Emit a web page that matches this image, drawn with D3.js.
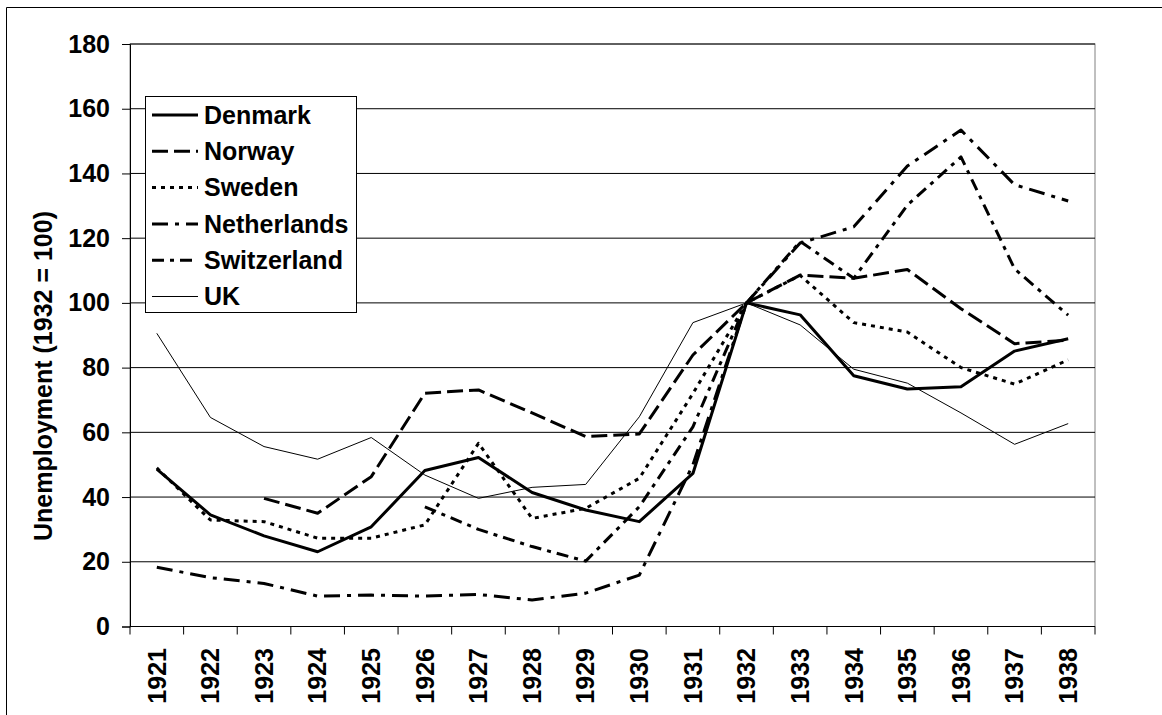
<!DOCTYPE html>
<html>
<head>
<meta charset="utf-8">
<script src="https://cdn.jsdelivr.net/npm/d3@7"></script>
<style>
  body { margin: 0; background: #fff; }
  text { font-family: "Liberation Sans", Arial, sans-serif; font-weight: bold; fill: #000; }
</style>
</head>
<body>
<svg id="svg1" width="1162" height="715"></svg>
<script>
// chart values, index 1932 = 100
var years = ["1921","1922","1923","1924","1925","1926","1927","1928","1929","1930","1931","1932","1933","1934","1935","1936","1937","1938"];
var yTicks = [0, 20, 40, 60, 80, 100, 120, 140, 160, 180];

var denmark     = [48.6, 34.5, 28, 23.1, 30.8, 48.2, 52.2, 41.4, 36, 32.4, 47.3, 100, 96.3, 77.5, 73.4, 74.1, 85.1, 88.9];
var norway      = [null, null, 39.6, 35, 46.3, 72.1, 73.1, 66, 58.7, 59.5, 83.9, 100, 108.6, 107.6, 110.3, 98.2, 87.4, 88.5];
var sweden      = [49, 32.9, 32.4, 27.3, 27.3, 31.4, 56.6, 33.4, 36.5, 45.8, 72, 100, 108.5, 93.9, 91, 80, 74.9, 82.4];
var netherlands = [18.3, 15.1, 13.3, 9.4, 9.7, 9.4, 9.9, 8.2, 10.3, 15.9, 50, 100, 118.5, 123.5, 142.3, 153.4, 136.5, 131.5];
var switzerland = [null, null, null, null, null, 37, 30, 24.7, 20.2, 37, 61.7, 100, 119, 107.6, 130.2, 145.1, 110.5, 96.2];
var uk          = [90.6, 64.6, 55.6, 51.7, 58.4, 46.8, 39.6, 43, 43.9, 64.8, 93.9, 100, 93.2, 79.5, 75.2, 66, 56.3, 62.7];

var seriesNames = ["Denmark", "Norway", "Sweden", "Netherlands", "Switzerland", "UK"];
var seriesValues = [denmark, norway, sweden, netherlands, switzerland, uk];
var seriesWidth = [3, 3, 3, 3, 3, 1];
var seriesDash = [null, "16,6", "4,5", "16,7,4,7", "12,6,4,6", null];

var plotLeft = 130, plotRight = 1095, plotTop = 44, plotBottom = 626.5;
var fontSize = '25px';

var svg = d3.select('svg');

svg.append('rect').attr('width', 1162).attr('height', 715).attr('fill', '#fff');

// outer chart frame (only left and top visible)
svg.append('path')
    .attr('d', 'M6.5,715V7.5H1162')
    .attr('fill', 'none')
    .attr('stroke', '#000')
    .attr('stroke-width', 1);

var x = d3.scaleBand().domain(years).range([plotLeft, plotRight]);
var y = d3.scaleLinear().domain([0, 180]).range([plotBottom, plotTop]);

// plot area border
svg.append('rect')
    .attr('x', plotLeft).attr('y', plotTop)
    .attr('width', plotRight - plotLeft).attr('height', plotBottom - plotTop)
    .attr('fill', 'none').attr('stroke', '#808080').attr('stroke-width', 1);

// gridlines
svg.append('g').selectAll('line')
    .data(yTicks.filter(function(d){ return d > 0; }))
    .enter().append('line')
    .attr('x1', plotLeft).attr('x2', plotRight)
    .attr('y1', function(d){ return y(d); })
    .attr('y2', function(d){ return y(d); })
    .attr('stroke', '#000').attr('stroke-width', 1);

// y axis
var yAxis = d3.axisLeft(y).tickValues(yTicks).tickSize(8).tickPadding(12);
var gy = svg.append('g').attr('transform', 'translate(' + plotLeft + ',0)').call(yAxis);
gy.select('.domain').attr('stroke', '#000');
gy.selectAll('text').style('font-size', fontSize).attr('fill', '#000')
    .style('font-family', '"Liberation Sans", Arial, sans-serif');

// x axis: ticks between categories
var boundaries = years.map(function(d){ return x(d); }).concat([plotRight]);
var gx = svg.append('g');
gx.append('line')
    .attr('x1', plotLeft).attr('x2', plotRight)
    .attr('y1', plotBottom).attr('y2', plotBottom)
    .attr('stroke', '#000');
gx.selectAll('.tick')
    .data(boundaries)
    .enter().append('line')
    .attr('x1', function(d){ return d; }).attr('x2', function(d){ return d; })
    .attr('y1', plotBottom).attr('y2', plotBottom + 8)
    .attr('stroke', '#000');
gx.selectAll('text')
    .data(years)
    .enter().append('text')
    .attr('transform', function(d){ return 'translate(' + (x(d) + x.bandwidth()/2) + ',648) rotate(-90)'; })
    .attr('text-anchor', 'end')
    .attr('dy', '0.35em')
    .style('font-size', fontSize)
    .text(function(d){ return d; });

// axis title
svg.append('text')
    .attr('transform', 'translate(43,376) rotate(-90)')
    .attr('text-anchor', 'middle')
    .attr('dy', '0.35em')
    .style('font-size', '25px')
    .text('Unemployment (1932 = 100)');

// series lines
var line = d3.line()
    .defined(function(d){ return d != null; })
    .x(function(d, i){ return x(years[i]) + x.bandwidth()/2; })
    .y(function(d){ return y(d); });

seriesValues.forEach(function(vals, k){
    svg.append('path')
        .datum(vals)
        .attr('d', line)
        .attr('fill', 'none')
        .attr('stroke', '#000')
        .attr('stroke-width', seriesWidth[k])
        .attr('stroke-dasharray', seriesDash[k])
        .attr('stroke-linejoin', 'round');
});

// legend
var legend = svg.append('g');
legend.append('rect')
    .attr('x', 145.5).attr('y', 96.5).attr('width', 211).attr('height', 216)
    .attr('fill', '#fff').attr('stroke', '#000');

var rows = legend.selectAll('.row')
    .data(seriesNames)
    .enter().append('g')
    .attr('transform', function(d, i){ return 'translate(0,' + (115 + i * 36.3) + ')'; });

rows.append('line')
    .attr('x1', 152).attr('x2', 198).attr('y1', 0).attr('y2', 0)
    .attr('stroke', '#000')
    .attr('stroke-width', function(d, i){ return seriesWidth[i]; })
    .attr('stroke-dasharray', function(d, i){ return seriesDash[i]; });

rows.append('text')
    .attr('x', 204).attr('dy', '0.35em')
    .style('font-size', fontSize)
    .text(function(d){ return d; });
</script>
</body>
</html>
